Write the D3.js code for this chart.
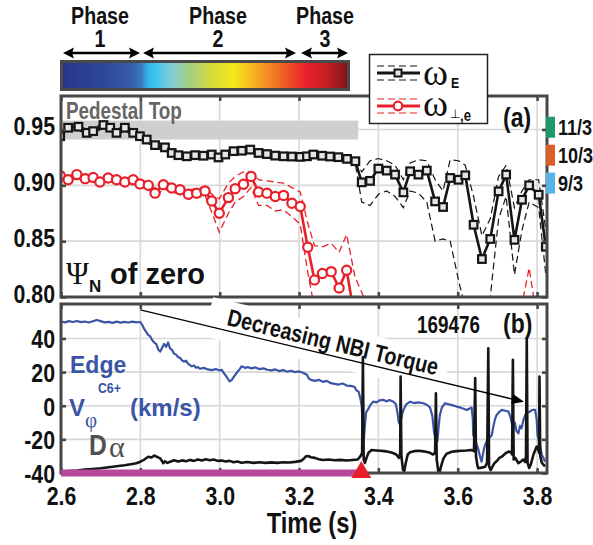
<!DOCTYPE html>
<html><head><meta charset="utf-8">
<script src="https://cdn.jsdelivr.net/npm/d3@7"></script>
<style>body{margin:0;background:#fff}svg{display:block}</style>
</head><body>
<svg id="c" width="593" height="545"></svg>
<script>
// ---------------- DATA ----------------
const xTicks = [2.6, 2.8, 3.0, 3.2, 3.4, 3.6, 3.8];
const xTickLabels = ["2.6", "2.8", "3.0", "3.2", "3.4", "3.6", "3.8"];
const yTicksA = [0.80, 0.85, 0.90, 0.95];
const yTickLabelsA = ["0.80", "0.85", "0.90", "0.95"];
const yTicksB = [-40, -20, 0, 20, 40];
const yTickLabelsB = ["-40", "-20", "0", "20", "40"];

const phaseNames = ["Phase", "Phase", "Phase"];
const phaseNums = ["1", "2", "3"];
const colorbarColors = ["#26358b", "#2e479b", "#3660ad", "#3d7cc0", "#2fb4ea", "#3fc6ef", "#7fcbd9", "#a9cf7e", "#d5dc35", "#f6e81c", "#f8b923", "#f38a24", "#ef5a25", "#e9222a", "#c91f26", "#7a1618"];
const colorbarStops = [0.00, 0.15, 0.25, 0.28, 0.30, 0.33, 0.38, 0.45, 0.53, 0.60, 0.66, 0.72, 0.78, 0.85, 0.92, 1.00];

const modeLabels = ["11/3", "10/3", "9/3"];
const modeColors = ["#1d9a6c", "#d95f27", "#56b4e9"];
const modeCenters = [0.952, 0.927, 0.902];

// omega_E (black squares) with upper/lower bounds
const omegaE_t = [2.598, 2.618, 2.644, 2.665, 2.681, 2.707, 2.724, 2.740, 2.761, 2.782, 2.799, 2.816, 2.837, 2.862, 2.879, 2.896, 2.917, 2.938, 2.959, 2.980, 2.997, 3.014, 3.035, 3.056, 3.077, 3.098, 3.119, 3.140, 3.161, 3.182, 3.203, 3.220, 3.236, 3.258, 3.278, 3.299, 3.321, 3.342, 3.358, 3.379, 3.400, 3.421, 3.442, 3.463, 3.480, 3.501, 3.522, 3.543, 3.563, 3.581, 3.602, 3.619, 3.640, 3.661, 3.682, 3.703, 3.722, 3.743, 3.762, 3.780, 3.804, 3.822];
const omegaE = [0.944, 0.9516, 0.9525, 0.947, 0.9485, 0.954, 0.9516, 0.947, 0.9516, 0.947, 0.944, 0.941, 0.936, 0.934, 0.929, 0.927, 0.926, 0.927, 0.9265, 0.9276, 0.925, 0.9276, 0.9306, 0.931, 0.932, 0.929, 0.928, 0.9266, 0.926, 0.9258, 0.9255, 0.926, 0.9276, 0.9265, 0.9258, 0.9252, 0.9237, 0.9216, 0.9027, 0.904, 0.915, 0.9132, 0.9096, 0.8937, 0.9126, 0.9096, 0.9132, 0.8856, 0.8806, 0.9066, 0.905, 0.909, 0.8647, 0.834, 0.852, 0.8946, 0.9096, 0.8512, 0.8871, 0.900, 0.8916, 0.845];
const omegaE_hi = [0.9465, 0.954, 0.955, 0.9495, 0.951, 0.9565, 0.954, 0.9495, 0.954, 0.9495, 0.9465, 0.9435, 0.9385, 0.9365, 0.9315, 0.9295, 0.9285, 0.9295, 0.929, 0.930, 0.9275, 0.930, 0.933, 0.9335, 0.9345, 0.9315, 0.9305, 0.929, 0.9285, 0.928, 0.928, 0.9285, 0.930, 0.929, 0.928, 0.9275, 0.926, 0.924, 0.912, 0.922, 0.924, 0.922, 0.918, 0.905, 0.920, 0.923, 0.922, 0.905, 0.895, 0.923, 0.922, 0.918, 0.890, 0.855, 0.870, 0.908, 0.918, 0.880, 0.895, 0.905, 0.905, 0.860];
const omegaE_lo = [0.9415, 0.949, 0.950, 0.9445, 0.946, 0.9515, 0.949, 0.9445, 0.949, 0.9445, 0.9415, 0.9385, 0.9335, 0.9315, 0.9265, 0.9245, 0.9235, 0.9245, 0.924, 0.925, 0.9225, 0.925, 0.928, 0.9285, 0.9295, 0.9265, 0.9255, 0.924, 0.9235, 0.923, 0.923, 0.9235, 0.925, 0.924, 0.923, 0.9225, 0.921, 0.919, 0.885, 0.882, 0.892, 0.895, 0.890, 0.880, 0.895, 0.893, 0.885, 0.850, 0.852, 0.850, 0.815, 0.790, 0.780, 0.780, 0.800, 0.870, 0.890, 0.820, 0.860, 0.885, 0.880, 0.820];

// omega_perp,e (red circles) with upper/lower bounds
const omegaP_t = [2.598, 2.618, 2.640, 2.661, 2.681, 2.698, 2.719, 2.740, 2.761, 2.782, 2.799, 2.820, 2.837, 2.858, 2.879, 2.900, 2.921, 2.942, 2.963, 2.980, 2.999, 3.022, 3.039, 3.060, 3.079, 3.098, 3.119, 3.140, 3.161, 3.182, 3.203, 3.222, 3.239, 3.259, 3.281, 3.301, 3.320, 3.341, 3.400, 3.500, 3.600, 3.700, 3.760, 3.780, 3.800, 3.822];
const omegaP = [0.9087, 0.905, 0.9096, 0.906, 0.907, 0.903, 0.9066, 0.905, 0.903, 0.905, 0.9013, 0.900, 0.893, 0.9006, 0.8976, 0.896, 0.892, 0.893, 0.895, 0.886, 0.875, 0.889, 0.897, 0.901, 0.908, 0.894, 0.893, 0.890, 0.891, 0.884, 0.881, 0.8446, 0.8153, 0.821, 0.8227, 0.808, 0.824, 0.780, 0.740, 0.730, 0.730, 0.740, 0.760, 0.775, 0.750, 0.740];
const omegaP_hi = [0.911, 0.908, 0.912, 0.909, 0.910, 0.906, 0.909, 0.908, 0.906, 0.908, 0.904, 0.903, 0.897, 0.904, 0.901, 0.900, 0.896, 0.897, 0.899, 0.892, 0.888, 0.902, 0.908, 0.912, 0.912, 0.905, 0.904, 0.903, 0.902, 0.898, 0.894, 0.866, 0.846, 0.845, 0.848, 0.840, 0.856, 0.818, 0.770, 0.760, 0.760, 0.770, 0.790, 0.826, 0.780, 0.770];
const omegaP_lo = [0.906, 0.902, 0.907, 0.903, 0.904, 0.900, 0.904, 0.902, 0.900, 0.902, 0.898, 0.897, 0.889, 0.897, 0.894, 0.892, 0.888, 0.889, 0.891, 0.876, 0.858, 0.875, 0.885, 0.890, 0.898, 0.882, 0.882, 0.877, 0.878, 0.872, 0.865, 0.822, 0.790, 0.785, 0.785, 0.780, 0.790, 0.750, 0.710, 0.700, 0.700, 0.710, 0.730, 0.745, 0.720, 0.710];

// Edge V_phi C6+ (km/s), blue trace: [time, value]
const vPhiEdge = [[2.600,50.0],[2.610,49.6],[2.620,50.3],[2.630,49.8],[2.640,50.4],[2.650,49.7],[2.660,50.1],[2.670,49.5],[2.680,50.2],[2.690,51.0],[2.700,50.3],[2.710,49.6],[2.720,49.9],[2.730,49.3],[2.740,50.0],[2.750,49.4],[2.760,49.9],[2.770,49.5],[2.780,50.0],[2.790,49.6],[2.800,49.8],
[2.805,48.0],[2.810,45.5],[2.815,43.8],[2.820,42.0],[2.825,41.2],[2.830,39.0],[2.835,37.5],[2.840,36.8],[2.845,33.5],[2.850,32.2],[2.855,34.5],[2.860,36.8],[2.865,35.0],[2.870,37.6],[2.875,34.0],[2.880,33.2],[2.885,31.0],[2.890,30.4],[2.895,29.0],[2.900,28.4],[2.905,27.0],[2.910,26.2],[2.915,26.8],[2.920,25.0],[2.925,24.2],[2.930,23.4],[2.935,24.0],[2.940,22.6],[2.945,23.0],[2.950,22.0],[2.960,22.5],[2.970,21.6],[2.980,21.2],[2.990,21.8],[3.000,21.0],[3.005,21.4],[3.010,19.5],[3.015,18.0],[3.020,16.2],[3.025,14.5],[3.030,15.2],[3.035,17.0],[3.040,18.6],[3.045,20.2],[3.050,21.6],[3.055,23.4],[3.060,23.0],[3.065,22.4],[3.070,23.0],[3.080,22.2],[3.090,22.8],[3.100,21.8],[3.110,22.2],[3.120,21.4],[3.130,21.0],[3.140,21.6],[3.150,20.6],[3.160,21.2],[3.170,20.2],[3.180,20.8],[3.190,20.0],[3.200,20.4],[3.210,19.6],[3.220,18.4],[3.225,16.0],[3.230,15.4],[3.240,14.8],[3.250,15.4],[3.260,14.2],[3.270,14.8],[3.280,13.4],[3.290,13.0],[3.300,12.6],[3.310,13.2],[3.320,12.0],[3.330,11.8],[3.340,11.2],[3.345,9.0],[3.350,8.4],[3.355,4.0],[3.358,-0.5],[3.361,-14.0],[3.363,-21.4],[3.366,-12.0],[3.369,-4.0],[3.373,-2.5],[3.380,0.5],[3.387,2.4],[3.395,2.0],[3.403,3.2],[3.412,3.5],[3.420,2.6],[3.428,3.4],[3.438,2.4],[3.444,1.0],[3.448,-4.0],[3.451,-9.5],[3.455,-11.4],[3.459,-6.0],[3.463,-2.5],[3.470,0.8],[3.480,2.4],[3.490,1.6],[3.500,2.0],[3.513,1.5],[3.522,0.6],[3.530,-1.0],[3.536,-6.0],[3.540,-15.0],[3.543,-19.4],[3.549,-21.0],[3.552,-12.0],[3.555,-5.5],[3.560,-1.0],[3.568,1.5],[3.578,0.8],[3.588,0.2],[3.597,-0.5],[3.606,-1.0],[3.615,-1.8],[3.623,-2.5],[3.630,-1.6],[3.635,-1.0],[3.638,-8.0],[3.639,-17.4],[3.644,-20.0],[3.648,-23.3],[3.652,-26.0],[3.656,-30.0],[3.660,-33.3],[3.664,-28.0],[3.668,-24.0],[3.673,-21.0],[3.680,-19.0],[3.686,-17.4],[3.690,-12.0],[3.694,-8.0],[3.698,-5.5],[3.705,-3.6],[3.711,-2.5],[3.720,-3.0],[3.728,-3.5],[3.733,-7.0],[3.737,-11.0],[3.740,-13.4],[3.744,-10.0],[3.748,-15.0],[3.753,-16.4],[3.757,-12.0],[3.761,-13.4],[3.765,-9.0],[3.770,-5.5],[3.776,-4.0],[3.782,-3.5],[3.788,-2.4],[3.795,-2.5],[3.799,-8.0],[3.801,-17.4],[3.806,-22.0],[3.812,-29.3],[3.816,-31.0],[3.820,-33.3]];

// D-alpha (arb., plotted on panel b axis): [time, value]
const dAlpha = [[2.600,-39.2],[2.620,-38.8],[2.640,-38.5],[2.660,-38.0],[2.680,-37.6],[2.700,-37.2],[2.720,-36.6],[2.740,-36.0],[2.760,-35.4],[2.780,-34.6],[2.790,-34.2],[2.800,-33.3],[2.810,-32.0],[2.820,-30.3],[2.828,-30.8],[2.835,-29.6],[2.842,-30.4],[2.850,-31.3],[2.855,-33.0],[2.858,-34.2],[2.862,-33.0],[2.868,-34.0],[2.875,-33.3],[2.885,-32.4],[2.895,-33.2],[2.905,-32.5],[2.915,-33.0],[2.925,-32.2],[2.935,-32.8],[2.945,-32.0],[2.955,-32.6],[2.965,-31.8],[2.975,-32.4],[2.985,-32.0],[2.995,-32.8],[3.005,-32.6],[3.015,-33.2],[3.025,-32.8],[3.035,-33.6],[3.045,-33.2],[3.055,-33.9],[3.070,-33.5],[3.085,-34.0],[3.100,-33.6],[3.115,-34.0],[3.130,-33.7],[3.145,-34.0],[3.160,-33.6],[3.175,-33.8],[3.190,-33.4],[3.205,-32.8],[3.212,-31.5],[3.218,-30.0],[3.223,-29.9],[3.230,-30.6],[3.240,-31.0],[3.250,-31.8],[3.260,-32.3],[3.275,-32.0],[3.290,-32.4],[3.305,-32.2],[3.320,-32.6],[3.335,-32.3],[3.348,-32.0],[3.355,-30.0],[3.359,-28.0],[3.361,29.0],[3.363,-32.0],[3.366,-34.0],[3.370,-31.0],[3.375,-28.0],[3.383,-26.3],[3.395,-26.6],[3.405,-26.8],[3.415,-27.0],[3.425,-27.4],[3.435,-28.0],[3.445,-29.0],[3.452,-31.0],[3.455,-28.0],[3.456,17.3],[3.458,-30.0],[3.462,-38.0],[3.465,-39.2],[3.469,-34.0],[3.474,-29.0],[3.480,-27.6],[3.490,-27.0],[3.500,-26.8],[3.510,-27.0],[3.520,-27.4],[3.530,-28.0],[3.538,-29.0],[3.543,-28.0],[3.545,7.4],[3.547,-32.0],[3.551,-39.0],[3.554,-40.0],[3.558,-36.0],[3.564,-31.3],[3.572,-28.5],[3.585,-27.4],[3.597,-27.0],[3.610,-26.8],[3.622,-26.6],[3.635,-26.3],[3.641,-27.0],[3.644,16.4],[3.646,-30.0],[3.650,-36.0],[3.652,-37.2],[3.660,-36.8],[3.669,-36.3],[3.674,-34.0],[3.677,34.2],[3.679,-36.0],[3.683,-38.3],[3.688,-36.0],[3.693,-34.0],[3.698,-33.0],[3.705,-31.0],[3.711,-30.3],[3.720,-28.4],[3.728,-27.3],[3.734,-27.6],[3.737,-29.0],[3.739,27.3],[3.741,-32.0],[3.745,-31.0],[3.750,-33.0],[3.753,-34.2],[3.760,-33.0],[3.765,-32.0],[3.770,-33.5],[3.772,-30.0],[3.774,40.2],[3.776,-34.0],[3.780,-37.0],[3.784,-35.0],[3.791,-29.0],[3.796,-26.0],[3.799,-24.3],[3.803,-26.0],[3.805,-28.0],[3.806,17.3],[3.808,-30.0],[3.812,-34.0],[3.816,-35.0],[3.820,-36.0]];

const pedestalBand = [0.941, 0.958];
const pedestalEnd = 3.349;
const nbiBarEnd = 3.345;
const markerTime = 3.357;
const torqueArrow = [[2.80, 57.0], [3.767, 2.3]];

// ---------------- LAYOUT ----------------
const L = 61, R = 547, A_TOP = 96, A_BOT = 297, B_TOP = 304, B_BOT = 473;
const SANS = "'Liberation Sans',Arial,sans-serif";
const SERIF = "'Liberation Serif','Times New Roman',serif";
const NX = 0.82; // horizontal condensation for narrow bold text
const FRAME = "#474747";
const RED = "#e8202a", BLUE = "#3a55a5", BLK = "#151515";

const svg = d3.select("#c");
const x = d3.scaleLinear([2.6, 3.825], [L, R]);
const yA = d3.scaleLinear([0.80, 0.98], [A_BOT, A_TOP]);
const yB = d3.scaleLinear([-40, 60.5], [B_BOT, B_TOP]);

function ntext(parent, px, py, str, size, anchor, fill) {
  return parent.append("text")
    .attr("transform", `translate(${px},${py}) scale(${NX},1)`)
    .attr("text-anchor", anchor || "start").attr("fill", fill || "#111")
    .style("font-family", SANS).style("font-weight", "bold").style("font-size", size + "px")
    .text(str);
}

const defs = svg.append("defs");
defs.append("clipPath").attr("id", "clipA").append("rect").attr("x", L).attr("y", A_TOP).attr("width", R - L).attr("height", A_BOT - A_TOP);
defs.append("clipPath").attr("id", "clipB").append("rect").attr("x", L).attr("y", B_TOP).attr("width", R - L).attr("height", B_BOT - B_TOP);
const grad = defs.append("linearGradient").attr("id", "cbar");
grad.selectAll("stop").data(colorbarColors).join("stop")
  .attr("offset", (d, i) => colorbarStops[i]).attr("stop-color", d => d);

// ---------------- PHASES / COLORBAR ----------------
const phaseCenters = [100, 218, 325];
phaseNames.forEach((d, i) => ntext(svg, phaseCenters[i], 24, d, 24, "middle"));
phaseNums.forEach((d, i) => ntext(svg, phaseCenters[i], 47, d, 24, "middle"));
const phaseArrows = [[63, 140], [143, 296], [301, 348]];
phaseArrows.forEach(([a, b]) => {
  const yy = 53;
  svg.append("line").attr("x1", a + 6).attr("x2", b - 6).attr("y1", yy).attr("y2", yy).attr("stroke", "#000").attr("stroke-width", 2.6);
  svg.append("path").attr("d", `M${a},${yy} L${a + 11},${yy - 5.5} L${a + 9},${yy} L${a + 11},${yy + 5.5} Z`).attr("fill", "#000");
  svg.append("path").attr("d", `M${b},${yy} L${b - 11},${yy - 5.5} L${b - 9},${yy} L${b - 11},${yy + 5.5} Z`).attr("fill", "#000");
});
svg.append("rect").attr("x", 61.5).attr("y", 61.5).attr("width", 287).attr("height", 28)
  .attr("fill", "url(#cbar)").attr("stroke", "#4a4a4a").attr("stroke-width", 3);

// ---------------- GRID ----------------
const gridColor = "#d8d8d8";
[[A_TOP, A_BOT], [B_TOP, B_BOT]].forEach(([t, b]) => {
  svg.append("g").selectAll("line").data(xTicks.slice(1)).join("line")
    .attr("x1", d => x(d)).attr("x2", d => x(d)).attr("y1", t).attr("y2", b)
    .attr("stroke", gridColor).attr("stroke-width", 1.6);
});
svg.append("g").selectAll("line").data(yTicksA.slice(1)).join("line")
  .attr("x1", L).attr("x2", R).attr("y1", d => yA(d)).attr("y2", d => yA(d))
  .attr("stroke", gridColor).attr("stroke-width", 1.6);
svg.append("g").selectAll("line").data(yTicksB.slice(1)).join("line")
  .attr("x1", L).attr("x2", R).attr("y1", d => yB(d)).attr("y2", d => yB(d))
  .attr("stroke", gridColor).attr("stroke-width", 1.6);

svg.append("rect").attr("x", x(2.6)).attr("width", x(pedestalEnd) - x(2.6))
  .attr("y", yA(pedestalBand[1])).attr("height", yA(pedestalBand[0]) - yA(pedestalBand[1]))
  .attr("fill", "#cfcfcf");

const ang = Math.atan2(yB(torqueArrow[1][1]) - yB(torqueArrow[0][1]), x(torqueArrow[1][0]) - x(torqueArrow[0][0])) * 180 / Math.PI;
svg.append("g").attr("transform", `translate(226,325) rotate(${ang})`)
  .append("rect").attr("x", -19).attr("y", -24).attr("width", 245).attr("height", 40).attr("fill", "#fff");

// ---------------- PANEL (a) DATA ----------------
const gA = svg.append("g").attr("clip-path", "url(#clipA)");
function series(ts, vs) { return ts.map((t, i) => [t, vs[i]]); }
const lineA = d3.line().x(d => x(d[0])).y(d => yA(d[1]));
gA.append("path").datum(series(omegaP_t, omegaP_hi)).attr("d", lineA).attr("fill", "none").attr("stroke", RED).attr("stroke-width", 1.3).attr("stroke-dasharray", "7,4");
gA.append("path").datum(series(omegaP_t, omegaP_lo)).attr("d", lineA).attr("fill", "none").attr("stroke", RED).attr("stroke-width", 1.3).attr("stroke-dasharray", "7,4");
gA.append("path").datum(series(omegaP_t, omegaP)).attr("d", lineA).attr("fill", "none").attr("stroke", RED).attr("stroke-width", 2.6);
gA.append("g").selectAll("circle").data(series(omegaP_t, omegaP)).join("circle")
  .attr("cx", d => x(d[0])).attr("cy", d => yA(d[1])).attr("r", 4.6)
  .attr("fill", "#fff").attr("stroke", RED).attr("stroke-width", 2.2);
gA.append("path").datum(series(omegaE_t, omegaE_hi)).attr("d", lineA).attr("fill", "none").attr("stroke", BLK).attr("stroke-width", 1.2).attr("stroke-dasharray", "7,4");
gA.append("path").datum(series(omegaE_t, omegaE_lo)).attr("d", lineA).attr("fill", "none").attr("stroke", BLK).attr("stroke-width", 1.2).attr("stroke-dasharray", "7,4");
gA.append("path").datum(series(omegaE_t, omegaE)).attr("d", lineA).attr("fill", "none").attr("stroke", BLK).attr("stroke-width", 2.6);
gA.append("g").selectAll("rect").data(series(omegaE_t, omegaE)).join("rect")
  .attr("x", d => x(d[0]) - 3.8).attr("y", d => yA(d[1]) - 3.8).attr("width", 7.6).attr("height", 7.6)
  .attr("fill", "#e6e6e6").attr("stroke", BLK).attr("stroke-width", 2.2);

// ---------------- PANEL (b) DATA ----------------
const gB = svg.append("g").attr("clip-path", "url(#clipB)");
const lineB = d3.line().x(d => x(d[0])).y(d => yB(d[1]));
gB.append("path").datum(vPhiEdge).attr("d", lineB).attr("fill", "none").attr("stroke", BLUE).attr("stroke-width", 2.2).attr("stroke-linejoin", "round");
gB.append("path").datum(dAlpha).attr("d", lineB).attr("fill", "none").attr("stroke", BLK).attr("stroke-width", 2.6).attr("stroke-linejoin", "round");

// ---------------- FRAMES & AXES ----------------
function styleAxis(g, showText, size) {
  g.select(".domain").remove();
  g.selectAll(".tick line").attr("stroke", FRAME).attr("stroke-width", 2.6);
  if (!showText) { g.selectAll(".tick text").remove(); return; }
  g.selectAll(".tick text").each(function () {
    const t = d3.select(this);
    const tx = +t.attr("x") || 0, ty = +t.attr("y") || 0;
    t.attr("x", 0).attr("y", 0).attr("transform", `translate(${tx},${ty}) scale(${NX},1)`)
      .attr("fill", "#111").style("font-family", SANS).style("font-weight", "bold").style("font-size", size + "px");
  });
}
[[A_TOP, A_BOT], [B_TOP, B_BOT]].forEach(([t, b], k) => {
  svg.append("g").attr("transform", `translate(0,${t})`).call(d3.axisTop(x).tickValues(xTicks).tickSize(-5)).call(g => styleAxis(g, false));
  svg.append("g").attr("transform", `translate(0,${b})`)
    .call(d3.axisBottom(x).tickValues(xTicks).tickSize(-5).tickPadding(14).tickFormat((d, i) => xTickLabels[i]))
    .call(g => styleAxis(g, k === 1, 26));
});
svg.append("g").attr("transform", `translate(${L},0)`)
  .call(d3.axisLeft(yA).tickValues(yTicksA).tickSize(-5).tickPadding(6).tickFormat((d, i) => yTickLabelsA[i]))
  .call(g => styleAxis(g, true, 26)).call(g => g.selectAll(".tick text").attr("dy", "0.2em"));
svg.append("g").attr("transform", `translate(${R},0)`)
  .call(d3.axisRight(yA).tickValues(yTicksA).tickSize(-5)).call(g => styleAxis(g, false));
svg.append("g").attr("transform", `translate(${L},0)`)
  .call(d3.axisLeft(yB).tickValues(yTicksB).tickSize(-5).tickPadding(6).tickFormat((d, i) => yTickLabelsB[i]))
  .call(g => styleAxis(g, true, 26)).call(g => g.selectAll(".tick text").attr("dy", "0.36em"));
svg.append("g").attr("transform", `translate(${R},0)`)
  .call(d3.axisRight(yB).tickValues(yTicksB).tickSize(-5)).call(g => styleAxis(g, false));

svg.append("rect").attr("x", L).attr("y", A_TOP).attr("width", R - L).attr("height", A_BOT - A_TOP)
  .attr("fill", "none").attr("stroke", FRAME).attr("stroke-width", 3);
svg.append("rect").attr("x", L).attr("y", B_TOP).attr("width", R - L).attr("height", B_BOT - B_TOP)
  .attr("fill", "none").attr("stroke", FRAME).attr("stroke-width", 3);

svg.append("g").attr("transform", `translate(226,325) rotate(${ang})`)
  .append("rect").attr("x", -19).attr("y", -24).attr("width", 60).attr("height", 14).attr("fill", "#fff");

// NBI bar + marker
svg.append("rect").attr("x", x(2.6)).attr("y", B_BOT - 3.5).attr("width", x(nbiBarEnd) - x(2.6)).attr("height", 7).attr("fill", "#b5489a");
const mx = x(markerTime);
svg.append("path").attr("d", `M${mx},${B_BOT - 12} L${mx + 10},${B_BOT + 5} L${mx - 10},${B_BOT + 5} Z`).attr("fill", RED);

// ---------------- TEXT ANNOTATIONS ----------------
ntext(svg, 312, 533, "Time (s)", 29, "middle");
ntext(svg, 66, 119, "Pedestal Top", 23, "start", "#666");

svg.append("text").attr("x", 66).attr("y", 284).attr("fill", "#111")
  .style("font-family", SERIF).style("font-size", "31px").text("Ψ");
svg.append("text").attr("x", 89).attr("y", 292).attr("fill", "#111")
  .style("font-family", SANS).style("font-weight", "bold").style("font-size", "17px").text("N");
svg.append("text").attr("x", 110).attr("y", 284).attr("fill", "#111")
  .style("font-family", SANS).style("font-weight", "bold").style("font-size", "29px").text("of zero");

ntext(svg, 503, 127, "(a)", 28);
ntext(svg, 503, 333, "(b)", 28);
ntext(svg, 417, 333, "169476", 23);

const tg = svg.append("g").attr("transform", `translate(226,325) rotate(${ang})`);
ntext(tg, 0, 0, "Decreasing NBI Torque", 24);
const a0 = [x(torqueArrow[0][0]), yB(torqueArrow[0][1])], a1 = [x(torqueArrow[1][0]), yB(torqueArrow[1][1])];
const rad = Math.atan2(a1[1] - a0[1], a1[0] - a0[0]);
const hb = [a1[0] - 12 * Math.cos(rad), a1[1] - 12 * Math.sin(rad)];
svg.append("line").attr("x1", a0[0]).attr("y1", a0[1]).attr("x2", hb[0]).attr("y2", hb[1]).attr("stroke", "#000").attr("stroke-width", 1.4);
svg.append("path").attr("d", `M${a1[0]},${a1[1]} L${hb[0] - 5 * Math.sin(rad)},${hb[1] + 5 * Math.cos(rad)} L${hb[0] + 5 * Math.sin(rad)},${hb[1] - 5 * Math.cos(rad)} Z`).attr("fill", "#000");

svg.append("text").attr("x", 70).attr("y", 373).attr("fill", BLUE)
  .style("font-family", SANS).style("font-weight", "bold").style("font-size", "23px").text("Edge");
svg.append("text").attr("x", 69).attr("y", 416).attr("fill", BLUE)
  .style("font-family", SANS).style("font-weight", "bold").style("font-size", "24px").text("V");
svg.append("text").attr("x", 85).attr("y", 427).attr("fill", BLUE)
  .style("font-family", SERIF).style("font-size", "21px").text("φ");
ntext(svg, 98, 393, "C6+", 15, "start", BLUE);
svg.append("text").attr("x", 130).attr("y", 416).attr("fill", BLUE)
  .style("font-family", SANS).style("font-weight", "bold").style("font-size", "24px").text("(km/s)");
ntext(svg, 89, 455, "D", 30, "start", "#505050");
svg.append("text").attr("x", 109).attr("y", 457).attr("fill", "#505050")
  .style("font-family", SERIF).style("font-size", "30px").text("α");

// ---------------- LEGEND ----------------
const lg = svg.append("g");
lg.append("rect").attr("x", 369.5).attr("y", 54.5).attr("width", 118).attr("height", 69).attr("fill", "#fff").attr("stroke", "#222").attr("stroke-width", 1.5);
[66, 80].forEach(yy => lg.append("line").attr("x1", 377).attr("x2", 420).attr("y1", yy).attr("y2", yy).attr("stroke", BLK).attr("stroke-width", 1.2).attr("stroke-dasharray", "7,4"));
lg.append("line").attr("x1", 377).attr("x2", 420).attr("y1", 73).attr("y2", 73).attr("stroke", BLK).attr("stroke-width", 2.8);
lg.append("rect").attr("x", 394.5).attr("y", 69.5).attr("width", 7).attr("height", 7).attr("fill", "#e6e6e6").attr("stroke", BLK).attr("stroke-width", 2);
[99, 113].forEach(yy => lg.append("line").attr("x1", 377).attr("x2", 420).attr("y1", yy).attr("y2", yy).attr("stroke", "#f06a6a").attr("stroke-width", 1.3).attr("stroke-dasharray", "7,4"));
lg.append("line").attr("x1", 377).attr("x2", 420).attr("y1", 106).attr("y2", 106).attr("stroke", RED).attr("stroke-width", 2.8);
lg.append("circle").attr("cx", 398).attr("cy", 106).attr("r", 4.3).attr("fill", "#fff").attr("stroke", RED).attr("stroke-width", 2.2);
lg.append("text").attr("x", 423).attr("y", 85).style("font-family", SERIF).style("font-size", "38px").attr("fill", "#111").text("ω");
ntext(lg, 451, 88, "E", 15);
lg.append("text").attr("x", 423).attr("y", 116).style("font-family", SERIF).style("font-size", "38px").attr("fill", "#111").text("ω");
lg.append("text").attr("x", 450).attr("y", 118).style("font-family", "'DejaVu Sans',sans-serif").style("font-size", "12px").attr("fill", "#111").text("⊥");
ntext(lg, 460, 121, ",e", 16);

// ---------------- MODE MARKERS ----------------
const mg = svg.append("g");
mg.selectAll("rect").data(modeLabels).join("rect")
  .attr("x", 546).attr("width", 9)
  .attr("y", (d, i) => yA(modeCenters[i]) - 10.5).attr("height", 21)
  .attr("fill", (d, i) => modeColors[i]);
modeLabels.forEach((d, i) => ntext(mg, 558, yA(modeCenters[i]) + 8, d, 22));
</script>
</body></html>
